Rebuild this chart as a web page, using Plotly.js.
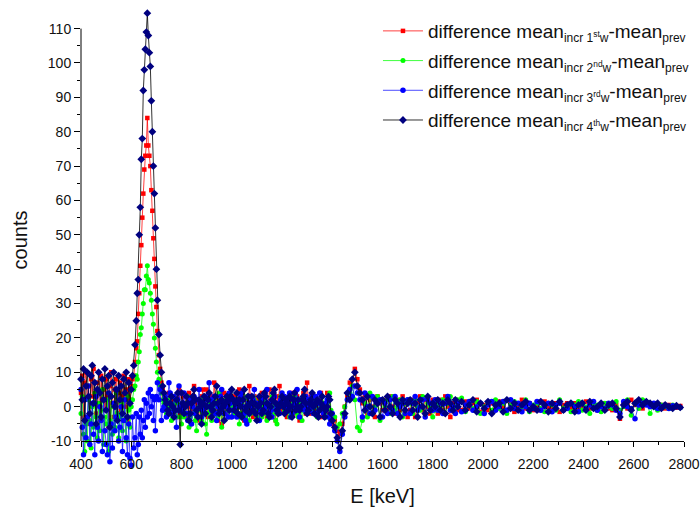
<!DOCTYPE html>
<html>
<head>
<meta charset="utf-8">
<script src="https://cdn.plot.ly/plotly-3.0.1.min.js"></script>
<style>html,body{margin:0;padding:0;background:#fff;}#chart{width:700px;height:509px;}</style>
</head>
<body>
<div id="chart"></div>
<script>
// Energy channels (keV)
const energy = [
 400,405,410,415,420,425,430,435,440,445,450,455,460,465,470,475,480,485,490,495,
 500,505,510,515,520,525,530,535,540,545,550,555,560,565,570,575,580,585,590,595,
 600,605,610,615,620,
 624,628,632,636,640,644,648,652,656,660,664,668,672,676,680,684,688,692,696,700,704,
 710,715,720,725,730,735,740,745,750,755,760,765,770,775,780,785,790,795,800,
 805,810,815,820,825,830,835,840,845,850,855,860,865,870,875,880,885,890,895,900,
 905,910,915,920,925,930,935,940,945,950,955,960,965,970,975,980,985,990,995,1000,
 1005,1010,1015,1020,1025,1030,1035,1040,1045,1050,1055,1060,1065,1070,1075,1080,1085,1090,1095,1100,
 1105,1110,1115,1120,1125,1130,1135,1140,1145,1150,1155,1160,1165,1170,1175,1180,1185,1190,1195,1200,
 1205,1210,1215,1220,1225,1230,1235,1240,1245,1250,1255,1260,1265,1270,1275,1280,1285,1290,1295,1300,
 1305,1310,1315,1320,1325,1330,1335,1340,1345,1350,1355,1360,1365,1370,1375,1380,1385,1390,1395,1400,
 1410,1420,1430,1440,1450,1460,1470,1480,1490,1500,
 1510,1520,1530,1540,1550,1560,1570,1580,1590,1600,
 1610,1620,1630,1640,1650,1660,1670,1680,1690,1700,
 1710,1720,1730,1740,1750,1760,1770,1780,1790,1800,
 1810,1820,1830,1840,1850,1860,1870,1880,1890,1900,
 1915,1930,1945,1960,1975,1990,2005,2020,2035,2050,
 2065,2080,2095,2110,2125,2140,2155,2170,2185,2200,
 2215,2230,2245,2260,2275,2290,2305,2320,2335,2350,
 2365,2380,2395,2410,2425,2440,2455,2470,2485,2500,
 2515,2530,2545,2560,2575,2590,2605,2620,2635,2650,
 2665,2680,2695,2710,2725,2740,2755,2770,2785
];

// difference mean_incr 1st w - mean_prev
const diff1st = [
 4,9,-3,7,10,2,6,-5,8,3,11,1,-2,7,4,-4,9,2,5,-1,
 8,3,-6,6,10,1,-3,5,8,-2,4,7,-1,3,9,0,5,-4,8,2,
 6,8,9,13,17,
 19,27,33,41,47,55,62,69,73,76,84,76,73,70,63,57,49,43,35,29,22,
 15,11,7,5,3,-1,0,2,4,1,-2,3,2,-1,-3,1,5,-2,1,
 3,1,-2,-3,2,4,0,-1,3,6,-2,2,1,-4,-1,3,5,-2,0,5,
 -3,-2,1,3,-1,7,2,-1,-4,2,4,-5,0,4,-2,1,3,-3,0,2,
 -1,3,1,-2,4,5,-3,1,2,-4,0,2,-1,6,3,-1,-3,3,1,0,
 2,-1,-3,4,2,0,-2,-3,1,5,-1,1,3,-2,-4,3,0,6,2,-1,
 1,2,-2,-3,0,1,3,4,-2,-1,2,3,0,-4,-1,0,4,2,-2,7,
 1,-2,3,1,-1,3,0,-1,-3,2,4,-3,1,0,-2,4,2,-2,-4,-5,
 -4,-7,-8,-5,0,3,7,6,11,8,
 5,1,3,-2,2,0,-3,3,1,-1,
 2,-1,3,0,-2,2,-1,3,1,-3,
 -1,2,-3,1,3,-1,2,0,-2,2,
 1,-2,2,-1,3,0,-3,1,2,-1,
 -1,1.5,-0.5,1,2,-1.5,0.5,-1,1,-0.5,
 1.5,0,-1,1,-1.5,0.5,2,-0.5,1,-1,
 0.5,-1,1.5,0,-0.5,1,-1.5,0.5,1,-0.5,
 1,-1,0,1.5,-0.5,1,-1,0.5,1,-0.5,
 -1,0.5,-3.5,1,-0.5,2,0.5,1,-0.5,1,
 0.5,1,0,0.5,-0.5,0.5,0,-0.3,0.2
];

// difference mean_incr 2nd w - mean_prev
const diff2nd = [
 -2,3,-8,-13,-5,-10,2,-4,-12,0,-6,4,-3,-9,1,-7,-1,5,-11,-3,
 -5,2,-13,-4,3,-8,0,-6,4,-2,-9,-3,1,-7,2,-4,-10,3,-1,-6,
 0,2,5,6,9,
 8,13,16,21,23,27,30,34,34,38,41,37,36,33,31,27,24,20,17,13,10,
 8,6,4,2,1,-1,-2,0,2,-1,-4,-2,0,1,-3,-1,1,-3,-5,
 -1,-3,-2,1,3,-6,-3,2,0,-2,-4,-7,-1,0,2,-4,-2,3,-5,-8,
 -2,1,-1,-4,0,2,1,-2,-3,4,1,-6,-2,0,2,3,-1,-3,1,-1,
 0,-2,-1,2,0,-5,-2,1,2,-1,-3,3,1,-4,-2,0,3,2,-1,-3,
 -1,1,2,-3,0,2,-2,-4,1,0,-3,3,0,-2,-4,-5,-1,1,3,2,
 0,-1,1,2,-1,-3,-2,0,1,3,0,-2,-3,1,2,-4,-1,2,0,-1,
 1,2,0,-1,-2,0,2,-3,-1,1,0,3,1,-2,-3,1,2,4,-1,-3,
 -3,-6,-5,-2,0,2,4,6,2,-6,
 -7,-4,1,-3,4,-2,0,3,-4,2,
 0,2,-2,3,-1,0,2,-3,1,2,
 1,-2,2,0,-1,3,-2,1,0,-3,
 -1,1,0,2,-2,1,3,-1,0,2,
 2.5,-1.5,1,-0.5,1.5,-2,0,1,-1,2,
 -0.5,1,-2,0.5,1.5,-1,0,2,-1.5,0.5,
 1,-0.5,-1.5,1,0.5,-1,2,-0.5,0,-1.5,
 0.5,1.5,-1,0,-2,1,0.5,-1.5,1,0,
 -0.5,1.5,-1,0,2,-2.5,1,-0.5,2,1.5,
 -2,0.5,-1,0.5,0,-0.5,0.5,0,-0.3
];

// difference mean_incr 3rd w - mean_prev
const diff3rd = [
 5,-6,-14,2,-9,-3,6,-11,-5,1,-8,-14,3,-6,-10,0,-4,-13,2,-7,
 -11,-14,4,-16,-5,-12,1,-7,-3,5,-10,-6,0,-13,-4,2,-9,-14,-5,-15,
 -17,-3,-12,-9,-2,
 -14,-11,-3,-8,-1,-9,-4,2,-6,1,-3,4,-2,5,0,3,-4,2,-7,3,7,
 2,5,-4,-1,0,3,-3,1,7,4,-2,0,3,-1,-6,2,6,0,-1,
 1,4,0,-2,-4,1,2,-5,0,3,-2,-1,2,5,1,-3,-1,0,3,2,
 0,7,2,-1,1,3,-2,-4,0,1,3,5,0,-2,1,0,-3,4,1,-3,
 -1,2,0,-3,2,1,3,4,0,-2,-4,-5,1,3,0,-1,2,5,-2,1,
 0,-4,-1,2,3,-1,0,5,-2,1,-1,-3,2,3,-1,0,1,-2,2,4,
 1,3,0,-1,2,4,-3,-2,0,1,2,5,-1,-3,0,2,1,-1,3,0,
 2,-1,0,3,-2,1,3,-2,1,4,-1,0,-2,-3,1,2,-3,-5,-4,-2,
 -7,-10,-13,-8,-3,2,5,3,6,4,
 2,-3,4,0,-2,3,-1,1,2,-3,
 1,-2,2,-1,3,-2,0,1,-2,2,
 -2,1,3,-1,0,2,-3,2,1,-1,
 2,-1,1,-2,1,3,-1,0,-2,1,
 -1.5,0.5,1.5,-1,0,1,-2,0.5,1.5,-1,
 0,1.5,-1,2,-0.5,1,-1.5,0,1,-0.5,
 1.5,-1,0,1,-1.5,0.5,1,-1,-0.5,1,
 0,-1.5,1,-0.5,0.5,1.5,-1,0,-0.5,1,
 0.5,-1,-2,1.5,0,-0.5,-3.5,0.5,1,0.5,
 0,1,-0.5,0,0.5,-0.5,0.3,0,-0.2
];

// difference mean_incr 4th w - mean_prev
const diff4th = [
 8,2,11,-4,6,10,3,-2,9,12,1,7,-5,5,10,4,-3,8,2,11,
 -1,6,9,-6,3,7,10,0,5,-4,9,2,6,-2,8,4,10,-3,7,1,
 5,9,12,18,25,
 33,37,50,58,72,78,92,98,104,109,114.5,108,103,99,89,80,70,62,52,40,31,
 21,15,10,6,4,2,1,-1,-2,1,3,0,-3,-1,2,4,-1,-11,4,
 1,-2,0,3,1,-4,-2,1,3,5,2,-1,-3,2,0,-5,1,3,-2,0,
 2,4,0,-3,-1,1,3,6,1,-2,-1,2,0,-4,1,3,2,-1,3,5,
 2,-1,1,4,-2,2,0,-3,2,5,-1,0,3,-2,1,3,-1,1,-2,-4,
 0,3,1,-2,-1,4,3,1,-2,-3,0,2,4,5,1,-1,-2,0,1,3,
 0,-2,2,1,-1,3,0,-3,2,4,-1,0,2,-1,0,2,3,5,1,-2,
 -1,1,2,4,0,-2,1,2,-3,-1,1,3,0,-3,-1,0,3,2,-2,-4,
 -6,-9,-12,-7,-2,4,2,8,10,6,
 4,2,-1,3,0,-2,2,1,-3,2,
 -1,3,0,-2,2,1,-3,2,-1,1,
 2,-1,1,-3,2,0,-2,3,-1,1,
 0,2,-1,1,-2,2,1,-1,2,0,
 1.5,-1,0.5,2,-1.5,1,-0.5,1.5,-2,0.5,
 1,-1.5,2,-0.5,1,-1,0.5,1.5,-1,0,
 -1,1.5,0.5,-1.5,1,-0.5,1.5,-1,0.5,1,
 -1.5,0.5,1,-1,1.5,-0.5,0,1,-1,0.5,
 1,-0.5,-3,0.5,1.5,-1,1,2,0.5,1.5,
 1,0,1,-0.5,0.5,0,-0.5,0.3,-0.2
];

const ordinals = ['st', 'nd', 'rd', 'th'];
const seriesNames = ordinals.map((o, i) =>
  'difference mean<sub><span style="font-size:12px">incr ' + (i + 1) + '<sup>' + o + '</sup>w</span></sub>-mean<sub><span style="font-size:12px">prev</span></sub>'
);

const yTickVals = [-10,0,10,20,30,40,50,60,70,80,90,100,110];
const yTickText = ['-10','0','10','20','30','40','50','60','70','80','90','100','110'];
const yMinorVals = [-5,5,15,25,35,45,55,65,75,85,95,105];

const all = [diff1st, diff2nd, diff3rd, diff4th];
all.forEach((s, i) => {
  if (s.length !== energy.length) throw new Error('length mismatch series ' + (i+1) + ': ' + s.length + ' vs ' + energy.length);
});

const styles = [
  {line: 'rgba(255,0,0,0.75)', marker: '#ff0000', symbol: 'square', size: 4.5},
  {line: 'rgba(0,255,0,0.75)', marker: '#00ff00', symbol: 'circle', size: 5},
  {line: 'rgba(0,0,255,0.7)', marker: '#0000ff', symbol: 'circle', size: 5.5},
  {line: 'rgba(0,0,0,0.8)', marker: '#000080', symbol: 'diamond', size: 6}
];

const traces = all.map((s, i) => ({
  type: 'scatter',
  mode: 'lines+markers',
  x: energy,
  y: s,
  name: seriesNames[i],
  legendgroup: 'g' + i,
  cliponaxis: false,
  line: {color: styles[i].line, width: 1},
  marker: {color: styles[i].marker, symbol: styles[i].symbol, size: styles[i].size, line: {width: 0}}
}));

const yMin = -19, yMax = 116;

const layout = {
  width: 700,
  height: 509,
  margin: {l: 81, r: 16, t: 8, b: 37, autoexpand: false},
  paper_bgcolor: '#ffffff',
  plot_bgcolor: '#ffffff',
  font: {family: 'Liberation Sans, Arial, sans-serif', color: '#111'},
  showlegend: true,
  legend: {
    x: 0.4925, y: 0.9913, xanchor: 'left', yanchor: 'top',
    font: {size: 19, color: '#111'},
    bgcolor: 'rgba(0,0,0,0)',
    itemwidth: 40,
    traceorder: 'grouped',
    tracegroupgap: 2
  },
  xaxis: {
    range: [400, 2800],
    anchor: 'free',
    position: (-10 - yMin) / (yMax - yMin),
    tickmode: 'linear', tick0: 400, dtick: 200,
    ticks: 'outside', ticklen: 5, tickwidth: 1, tickcolor: '#000',
    ticklabelstandoff: 5,
    minor: {dtick: 100, tick0: 400, ticks: 'outside', ticklen: 3, tickwidth: 1, tickcolor: '#000'},
    showline: true, linecolor: '#000', linewidth: 1,
    showgrid: false, zeroline: false,
    tickfont: {size: 14, color: '#111'},
    title: {text: 'E [keV]', font: {size: 20, color: '#111'}, standoff: 18}
  },
  yaxis: {
    range: [yMin, yMax],
    tickmode: 'array', tickvals: yTickVals, ticktext: yTickText,
    ticks: 'outside', ticklen: 6, tickwidth: 1, tickcolor: '#000',
    minor: {tickmode: 'array', tickvals: yMinorVals, ticks: 'outside', ticklen: 3, tickwidth: 1, tickcolor: '#000'},
    showline: false, showgrid: false, zeroline: false,
    tickfont: {size: 14, color: '#111'},
    title: {text: 'counts', font: {size: 20, color: '#111'}, standoff: 14}
  },
  shapes: [
    {type: 'line', xref: 'paper', yref: 'y', x0: 0, x1: 0, y0: -10, y1: 110, line: {color: '#000', width: 1}}
  ]
};

Plotly.newPlot('chart', traces, layout, {displayModeBar: false, staticPlot: true});
</script>
</body>
</html>
